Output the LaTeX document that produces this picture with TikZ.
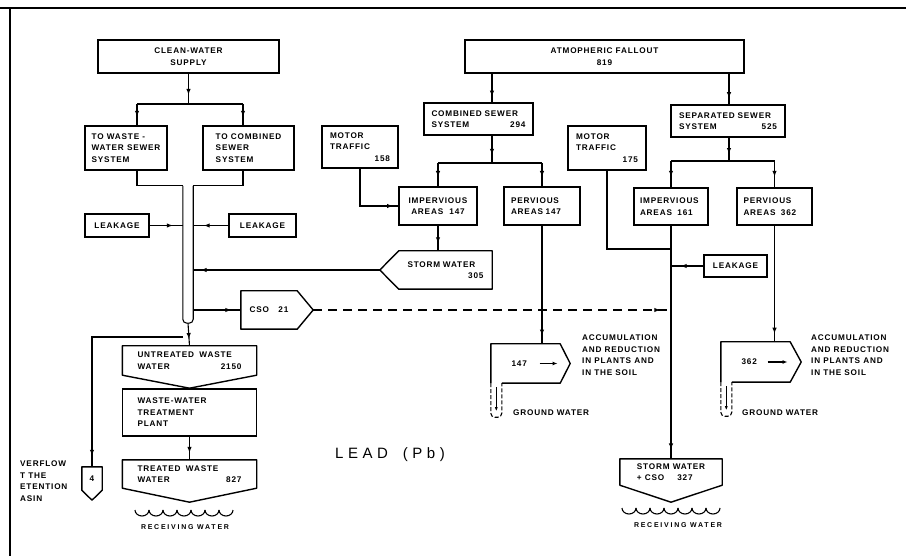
\documentclass[tikz,border=0pt]{standalone}
\usepackage{fontspec}
\usepackage{tikz}
\usetikzlibrary{arrows.meta, calc, decorations.markings}
\newfontfamily\lettering[LetterSpace=10]{Liberation Sans}
\newfontfamily\widelettering[LetterSpace=25]{Liberation Sans}
\newfontfamily\titlelettering[LetterSpace=30]{Liberation Sans}
\newcommand{\stencilfont}{\lettering\bfseries\fontsize{8.2}{11.5}\selectfont}

\begin{document}
\begin{tikzpicture}[
  x=1pt, y=-1pt,
  box/.style={rectangle, draw, line width=1.4pt, inner sep=0pt, align=left, font=\stencilfont},
  cbox/.style={box, align=center},
  shp/.style={rectangle, inner sep=0pt, align=left, font=\stencilfont},
  lbl/.style={inner sep=0pt, align=left, font=\stencilfont},
  small/.style={inner sep=0pt, font=\widelettering\bfseries\fontsize{7}{8}\selectfont},
  outline/.style={line width=1.4pt, line join=round},
  link/.style={line width=1.1pt},
  tip/.style={line width=1.1pt, -{Latex[length=5pt,width=4pt]}},
  flow/.style={line width=1.1pt, postaction={decorate}, decoration={markings, mark=at position #1 with {\arrow{Latex[length=6pt,width=4.5pt]}}}},
  flow/.default=0.8
]
\useasboundingbox (0,0) rectangle (906,556);
\draw[line width=2.5pt] (0,8) -- (906,8);
\draw[line width=2pt] (10,9) -- (10,556);

% left column
\node[cbox, minimum width=181, minimum height=33] (clean) at (188.5,56.5) {CLEAN-WATER\\SUPPLY};
\node[box, minimum width=82, minimum height=44] (towaste) at (126,148) {TO WASTE -\\WATER SEWER\\SYSTEM};
\node[box, minimum width=91, minimum height=44] (tocomb) at (248.5,148) {TO COMBINED\\SEWER\\SYSTEM};
\node[cbox, minimum width=64, minimum height=23] (leakl) at (117,225.5) {LEAKAGE};
\node[cbox, minimum width=67, minimum height=23] (leakr) at (262.5,225.5) {LEAKAGE};
\node[rectangle, inner sep=0pt, minimum width=10, minimum height=137] (pipe) at (188,254.5) {};
\node[shp, minimum width=56, minimum height=38] (cso) at (269,310) {CSO\ \ \ 21};
\node[shp, text width=104, minimum width=134, minimum height=29] (untreated) at (189.5,360.5) {UNTREATED\ \ WASTE\\WATER\hfill 2150\hspace*{10pt}};
\node[box, text width=104, minimum width=134, minimum height=47] (plant) at (189.5,412.5) {WASTE-WATER\\TREATMENT\\PLANT};
\node[shp, text width=104, minimum width=134, minimum height=28] (treated) at (189.5,474) {TREATED\ \ WASTE\\WATER\hfill 827\hspace*{12pt}};
\node[shp, minimum width=20, minimum height=23] (basin) at (92,478.5) {4};
\node[lbl, anchor=north west] (overflow) at (20,461) {VERFLOW\\T THE\\ETENTION\\ASIN};
\node[small] (recvl) at (185,527) {RECEIVING WATER};

% middle column
\node[cbox, line width=1.8pt, minimum width=279, minimum height=33] (fallout) at (604.5,56.5) {ATMOPHERIC FALLOUT\\819};
\node[box, text width=94, minimum width=109, minimum height=32] (comb) at (478.5,119) {COMBINED SEWER\\SYSTEM\hfill 294};
\node[box, text width=60, minimum width=76, minimum height=42] (motorl) at (360,147) {MOTOR\\TRAFFIC\\\hfill 158};
\node[cbox, minimum width=78, minimum height=38] (impl) at (438,206) {IMPERVIOUS\\AREAS\ \ 147};
\node[box, text width=62, minimum width=76, minimum height=38] (pervl) at (542,206) {PERVIOUS\\AREAS 147};
\node[shp, text width=76, minimum width=93, minimum height=38] (storml) at (445.5,270) {STORM WATER\\\hfill 305};
\node[shp, text width=28, minimum width=69, minimum height=39] (accl) at (525.5,363.5) {147};
\node[lbl, anchor=west] (gwl) at (513,413) {GROUND WATER};
\node[lbl, anchor=north west] (accnotel) at (582,335) {ACCUMULATION\\AND REDUCTION\\IN PLANTS AND\\IN THE SOIL};
\node[font=\titlelettering\fontsize{15}{18}\selectfont] (lead) at (390,455) {LEAD\quad (Pb)};

% right column
\node[box, text width=98, minimum width=114, minimum height=32] (sep) at (728,121) {SEPARATED SEWER\\SYSTEM\hfill 525};
\node[box, text width=62, minimum width=78, minimum height=44] (motorr) at (607,148) {MOTOR\\TRAFFIC\\\hfill 175};
\node[box, text width=62, minimum width=74, minimum height=37] (impr) at (671,206.5) {IMPERVIOUS\\AREAS\ \ 161};
\node[box, text width=62, minimum width=75, minimum height=37] (pervr) at (774.5,206.5) {PERVIOUS\\AREAS\ \ 362};
\node[cbox, minimum width=63, minimum height=22] (leakrr) at (735.5,266) {LEAKAGE};
\node[shp, text width=28, minimum width=69, minimum height=40] (accr) at (755.5,362) {362};
\node[lbl, anchor=west] (gwr) at (742,413) {GROUND WATER};
\node[lbl, anchor=north west] (accnoter) at (811,335) {ACCUMULATION\\AND REDUCTION\\IN PLANTS AND\\IN THE SOIL};
\node[shp, minimum width=102, minimum height=26] (stormr) at (671,472) {STORM WATER\\+ CSO\hspace{1.6em}327};
\node[small] (recvr) at (678,525) {RECEIVING WATER};

\coordinate (cwl) at (137,104);
\coordinate (cwr) at (243,104);
\coordinate (ovf) at (183,337);
\coordinate (csp) at (492,163);
\coordinate (ssp) at (729,161);
\coordinate (mtj) at (671,249);
\coordinate (s1tip) at ($(storml.west)+(-19,0)$);
\coordinate (csotip) at ($(cso.east)+(16,0)$);

% outlines
\draw[link, rounded corners=4pt] (pipe.north west) -- (pipe.south west) -- (pipe.south east) -- (pipe.north east);
\draw[outline] (cso.north west) -- (cso.north east) -- (csotip) -- (cso.south east) -- (cso.south west) -- cycle;
\draw[outline] (untreated.north west) -- (untreated.north east) -- (untreated.south east) -- ($(untreated.south)+(0,13)$) -- (untreated.south west) -- cycle;
\draw[outline] (treated.north west) -- (treated.north east) -- (treated.south east) -- ($(treated.south)+(0,14)$) -- (treated.south west) -- cycle;
\draw[outline] (basin.north west) -- (basin.north east) -- (basin.south east) -- ($(basin.south)+(0,10)$) -- (basin.south west) -- cycle;
\draw[outline] (storml.north east) -- (storml.north west) -- (s1tip) -- (storml.south west) -- (storml.south east) -- cycle;
\draw[outline] (stormr.north west) -- (stormr.north east) -- (stormr.south east) -- ($(stormr.south)+(0,17)$) -- (stormr.south west) -- cycle;
\draw[outline] (accl.south west) -- (accl.north west) -- (accl.north east) -- ($(accl.east)+(10,0)$) -- (accl.south east) -- ($(accl.south west)+(11,0)$);
\draw[outline] (accr.south west) -- (accr.north west) -- (accr.north east) -- ($(accr.east)+(11,0)$) -- (accr.south east) -- ($(accr.south west)+(11,0)$);
\draw[tip] ($(accl.center)+(14,0)$) -- ++(18,0);
\draw[tip] ($(accr.center)+(12,0)$) -- ++(20,0);
\draw[link, dash pattern=on 4pt off 2pt, rounded corners=4pt] (accl.south west) -- ++(0,34) -- ++(11,0) -- ++(0,-34);
\draw[link, dash pattern=on 4pt off 2pt, rounded corners=4pt] (accr.south west) -- ++(0,34) -- ++(11,0) -- ++(0,-34);
\draw[line width=0.8pt, -{Latex[length=4pt,width=3pt]}] ($(accl.south west)+(5.5,4)$) -- ++(0,24);
\draw[line width=0.8pt, -{Latex[length=4pt,width=3pt]}] ($(accr.south west)+(5.5,4)$) -- ++(0,24);
\foreach \i in {0,...,6} {
  \draw[link] (135+14*\i,510) arc (180:360:7pt and 6pt);
  \draw[link] (622+14*\i,508) arc (180:360:7pt and 6pt);
}

% connectors, left
\draw[flow=0.7] (clean.south) -- (clean.south |- cwl);
\draw[link] (cwl) -- (cwr);
\draw[flow=0.6] (cwl) -- (cwl |- towaste.north);
\draw[flow=0.6] (cwr) -- (cwr |- tocomb.north);
\draw[link] (cwl |- towaste.south) |- (pipe.north west);
\draw[link] (cwr |- tocomb.south) |- (pipe.north east);
\draw[flow=0.7] (leakl.east) -- (leakl.east -| pipe.west);
\draw[flow=0.7] (leakr.west) -- (leakr.west -| pipe.east);
\draw[flow=0.96] (s1tip) -- (s1tip -| pipe.east);
\draw[flow] (cso.west -| pipe.east) -- (cso.west);
\draw[flow=0.7] (pipe.south) -- (untreated.north);
\draw[flow=0.95] (ovf) -| (basin.north);
\draw[flow=0.7] (plant.south) -- (treated.north);

% connectors, middle
\draw[flow] (csp |- fallout.south) -- (csp |- comb.north);
\draw[flow=0.7] (csp |- comb.south) -- (csp);
\draw[link] (impl.north |- csp) -- (pervl.north |- csp);
\draw[flow=0.6] (impl.north |- csp) -- (impl.north);
\draw[flow=0.6] (pervl.north |- csp) -- (pervl.north);
\draw[flow=0.93] (motorl.south) |- (impl.west);
\draw[flow=0.7] (impl.south) -- (impl.south |- storml.north);
\draw[flow=0.93] (pervl.south) -- (pervl.south |- accl.north);

% connectors, right
\draw[flow] (ssp |- fallout.south) -- (ssp |- sep.north);
\draw[flow=0.7] (ssp |- sep.south) -- (ssp);
\draw[link] (impr.north |- ssp) -- (pervr.north |- ssp);
\draw[flow=0.6] (impr.north |- ssp) -- (impr.north);
\draw[flow=0.6] (pervr.north |- ssp) -- (pervr.north);
\draw[line width=2.2pt] (motorr.south) |- (mtj);
\draw[flow=0.96] (impr.south) -- (stormr.north);
\draw[flow=0.7] (leakrr.west) -- (leakrr.west -| impr.south);
\draw[flow=0.97, dash pattern=on 9pt off 6pt] (csotip) -- (csotip -| impr.south);
\draw[flow=0.93] (pervr.south) -- (pervr.south |- accr.north);
\end{tikzpicture}
\end{document}
